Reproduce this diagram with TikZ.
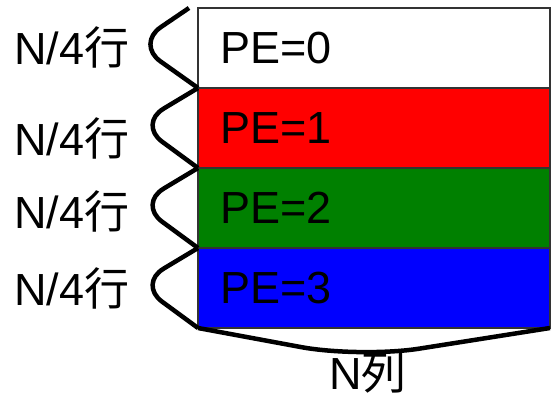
\documentclass[tikz,border=0pt]{standalone}
\usepackage{fontspec}
\setmainfont{Liberation Sans}
\newfontfamily\cjk{Noto Sans CJK JP}
\usepackage{tikz}
\usetikzlibrary{positioning}

\tikzset{
  band/.style={draw=black!80, line width=1.5pt, outer sep=0pt, inner ysep=0pt,
    inner xsep=22pt, text width=308pt, minimum height=80pt, align=left,
    anchor=north west, font=\fontsize{45}{54}\selectfont},
  brace/.style={line width=4.5pt, rounded corners=30pt},
  lbl/.style={inner sep=0pt, anchor=base west, font=\fontsize{45}{54}\selectfont}
}

\begin{document}
\begin{tikzpicture}[x=1pt,y=-1pt]
    \useasboundingbox (0,0) rectangle (552,399);
    \node[band] (pe0) at (198,8) {PE=0};
    \node[band, fill=red, below=0pt of pe0] (pe1) {PE=1};
    \node[band, fill=green!50!black, below=0pt of pe1] (pe2) {PE=2};
    \node[band, fill=blue, below=0pt of pe2] (pe3) {PE=3};

    \coordinate (top) at ([xshift=-9pt]pe0.north west);
    \draw[brace] (top) -- (136,44) -- (pe0.south west);
    \draw[brace] (pe0.south west) -- (138,124) -- (pe1.south west);
    \draw[brace] (pe1.south west) -- (138,204) -- (pe2.south west);
    \draw[brace] (pe2.south west) -- (138,284) -- (pe3.south west);
    \draw[brace, rounded corners=60pt] (pe3.south west) -- (360,358) -- (pe3.south east);

    \node[lbl] (rows0) at (14,64) {N/4{\cjk 行}};
    \node[lbl] (rows1) at (14,155) {N/4{\cjk 行}};
    \node[lbl] (rows2) at (14,228) {N/4{\cjk 行}};
    \node[lbl] (rows3) at (14,305) {N/4{\cjk 行}};
    \node[lbl] (cols) at (329,389) {N{\cjk 列}};
\end{tikzpicture}
\end{document}
